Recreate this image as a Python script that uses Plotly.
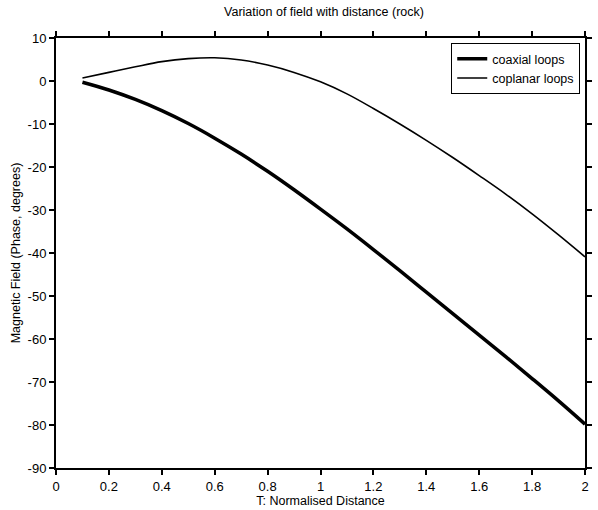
import plotly.graph_objects as go

t = [0.1, 0.2, 0.3, 0.4, 0.5, 0.6, 0.7, 0.8, 0.9, 1.0, 1.1, 1.2, 1.3, 1.4, 1.5, 1.6, 1.7, 1.8, 1.9, 2.0]
coaxial = [-0.3, -2.1, -4.3, -6.9, -9.9, -13.3, -17.0, -21.0, -25.3, -29.8, -34.4, -39.2,
           -44.1, -49.1, -54.1, -59.1, -64.1, -69.2, -74.4, -79.8]
coplanar = [0.7, 2.0, 3.3, 4.5, 5.2, 5.4, 4.9, 3.7, 2.0, -0.2, -3.0, -6.4,
            -10.0, -13.8, -17.8, -22.0, -26.3, -30.9, -35.8, -40.9]

x_ticks = [0, 0.2, 0.4, 0.6, 0.8, 1.0, 1.2, 1.4, 1.6, 1.8, 2.0]
x_labels = ["0", "0.2", "0.4", "0.6", "0.8", "1", "1.2", "1.4", "1.6", "1.8", "2"]
y_ticks = [10, 0, -10, -20, -30, -40, -50, -60, -70, -80, -90]
y_labels = ["10", "0", "-10", "-20", "-30", "-40", "-50", "-60", "-70", "-80", "-90"]

fig = go.Figure()
fig.add_trace(go.Scatter(x=t, y=coaxial, mode="lines", name="coaxial loops",
                         line=dict(color="black", width=3.5, shape="spline")))
fig.add_trace(go.Scatter(x=t, y=coplanar, mode="lines", name="coplanar loops",
                         line=dict(color="black", width=1.6, shape="spline")))

fam = "Liberation Sans, Arial, sans-serif"
font = dict(family=fam, color="black", size=12)
axis_common = dict(showline=True, linecolor="black", linewidth=2, mirror="ticks",
                   ticks="outside", ticklen=5, tickwidth=2, tickcolor="black",
                   showgrid=False, zeroline=False,
                   tickfont=dict(size=13, family=fam, color="black"))

fig.update_layout(
    width=598, height=510,
    margin=dict(l=56, r=6, t=38, b=42),
    paper_bgcolor="white", plot_bgcolor="white",
    font=font,
    title=dict(text="Variation of field with distance (rock)", x=(56 + 268) / 598, xanchor="center",
               y=1 - 12 / 510, yanchor="middle", font=dict(size=12.5)),
    legend=dict(x=0.991, xanchor="right", y=0.988, yanchor="top",
                bordercolor="black", borderwidth=1, bgcolor="white",
                font=dict(size=12.5), tracegroupgap=0, itemwidth=30),
    showlegend=True,
)
fig.update_xaxes(range=[0, 2], tickvals=x_ticks, ticktext=x_labels,
                 title=dict(text="T: Normalised Distance", standoff=2, font=dict(size=12.5)),
                 **axis_common)
fig.update_yaxes(range=[-90, 10], tickvals=y_ticks, ticktext=y_labels,
                 title=dict(text="Magnetic Field (Phase, degrees)", standoff=4, font=dict(size=12.5)),
                 **axis_common)

fig.write_html("out.html")
